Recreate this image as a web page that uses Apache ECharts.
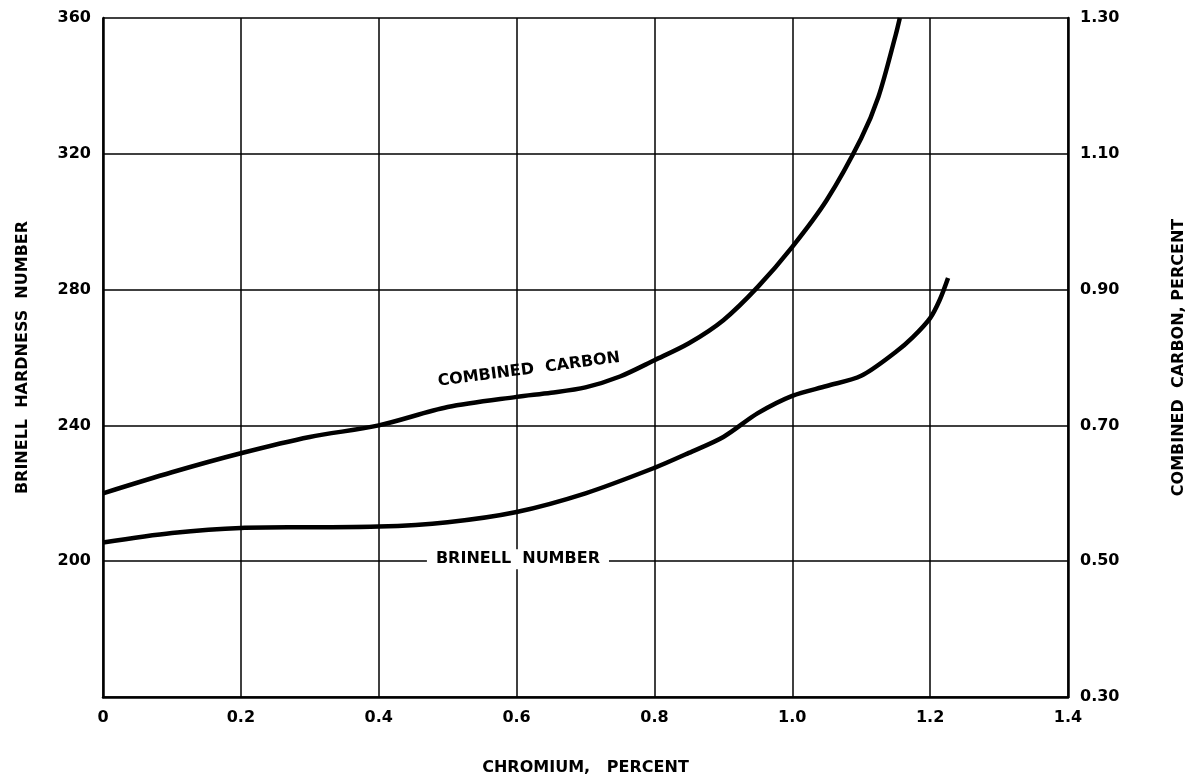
<!DOCTYPE html>
<html>
<head>
<meta charset="utf-8">
<script src="https://cdn.jsdelivr.net/npm/echarts@6/dist/echarts.min.js"></script>
<style>
html,body{margin:0;padding:0;background:#fff;}
#c{width:1191px;height:779px;}
</style>
</head>
<body>
<div id="c"></div>
<script>
// Data
const ccChromium = [0, 0.1, 0.2, 0.3, 0.4, 0.5, 0.6, 0.65, 0.7, 0.75, 0.8, 0.85, 0.9, 0.95, 1.0, 1.05, 1.1, 1.125, 1.15, 1.156];
const combinedCarbon = [0.600, 0.631, 0.659, 0.683, 0.700, 0.727, 0.742, 0.748, 0.756, 0.772, 0.796, 0.821, 0.855, 0.904, 0.963, 1.032, 1.123, 1.184, 1.275, 1.300];
const bnChromium = [0, 0.1, 0.2, 0.3, 0.4, 0.5, 0.6, 0.7, 0.8, 0.85, 0.9, 0.95, 1.0, 1.05, 1.1, 1.15, 1.175, 1.2, 1.214, 1.226];
const brinell = [205.5, 208.3, 209.8, 210.0, 210.2, 211.5, 214.5, 220.0, 227.5, 231.9, 236.6, 243.6, 248.7, 251.6, 254.6, 261.6, 266.0, 271.6, 277.0, 283.4];

const xTicks = {min: 0, max: 1.4, interval: 0.2};
const leftTicks = {min: 160, max: 360, interval: 40};
const rightTicks = {min: 0.3, max: 1.3, interval: 0.2};

const ccLabel = {text: 'COMBINED  CARBON', coord: [0.618, 0.782]};
const bnLabel = {text: 'BRINELL  NUMBER', coord: [0.602, 0.503]};

const FONT = 'DejaVu Sans';
const chart = echarts.init(document.getElementById('c'), null, {renderer: 'canvas'});

const pair = (xs, ys) => xs.map((x, i) => [x, ys[i]]);
const txt = {color: '#000', fontFamily: FONT, fontWeight: 'bold', fontSize: 16};
const toRight = v => 0.3 + (v - 160) / 200;

chart.setOption({
  backgroundColor: '#fff',
  animation: false,
  grid: {left: 103, right: 123, top: 18, bottom: 82, show: false, containLabel: false, outerBoundsMode: 'none'},
  xAxis: {
    type: 'value', min: xTicks.min, max: xTicks.max, interval: xTicks.interval,
    name: 'CHROMIUM,   PERCENT', nameLocation: 'middle', nameGap: 63,
    nameTextStyle: Object.assign({}, txt, {fontSize: 16}),
    axisLine: {show: true, lineStyle: {color: '#000', width: 2.5}},
    axisTick: {show: false},
    axisLabel: Object.assign({}, txt, {margin: 13, formatter: v => v === 0 ? '0' : v.toFixed(1)}),
    splitLine: {show: true, lineStyle: {color: '#000', width: 1.5}}
  },
  yAxis: [{
    type: 'value', position: 'left', min: leftTicks.min, max: leftTicks.max, interval: leftTicks.interval,
    name: 'BRINELL  HARDNESS  NUMBER', nameLocation: 'middle', nameGap: 72, nameRotate: 90,
    nameTextStyle: Object.assign({}, txt, {fontSize: 16}),
    axisLine: {show: true, lineStyle: {color: '#000', width: 2.5}},
    axisTick: {show: false},
    axisLabel: Object.assign({}, txt, {margin: 12, formatter: v => v === 160 ? '' : String(v)}),
    splitLine: {show: true, lineStyle: {color: '#000', width: 1.5}}
  }, {
    type: 'value', position: 'right', min: rightTicks.min, max: rightTicks.max, interval: rightTicks.interval,
    name: 'COMBINED  CARBON, PERCENT', nameLocation: 'middle', nameGap: 103, nameRotate: 90,
    nameTextStyle: Object.assign({}, txt, {fontSize: 16}),
    axisLine: {show: true, lineStyle: {color: '#000', width: 2.5}},
    axisTick: {show: false},
    axisLabel: Object.assign({}, txt, {margin: 12, formatter: v => v.toFixed(2)}),
    splitLine: {show: false}
  }],
  series: [{
    name: 'Combined carbon', type: 'line', yAxisIndex: 1,
    data: pair(ccChromium, combinedCarbon), smooth: 0.3, symbol: 'none',
    lineStyle: {color: '#000', width: 4.5},
    markPoint: {
      symbol: 'circle', symbolSize: 1, silent: true, itemStyle: {color: 'rgba(0,0,0,0)'},
      label: Object.assign({}, txt, {show: true, position: 'inside', formatter: ccLabel.text, rotate: 7.5}),
      data: [{coord: ccLabel.coord}]
    }
  }, {
    name: 'Brinell number', type: 'line', yAxisIndex: 1,
    data: pair(bnChromium, brinell.map(toRight)),
    smooth: 0.3, symbol: 'none',
    lineStyle: {color: '#000', width: 4.5},
    markPoint: {
      symbol: 'circle', symbolSize: 1, silent: true, itemStyle: {color: 'rgba(0,0,0,0)'},
      label: Object.assign({}, txt, {show: true, position: 'inside', formatter: bnLabel.text,
        backgroundColor: '#fff', padding: [2, 9]}),
      data: [{coord: bnLabel.coord}]
    }
  }]
});
</script>
</body>
</html>
